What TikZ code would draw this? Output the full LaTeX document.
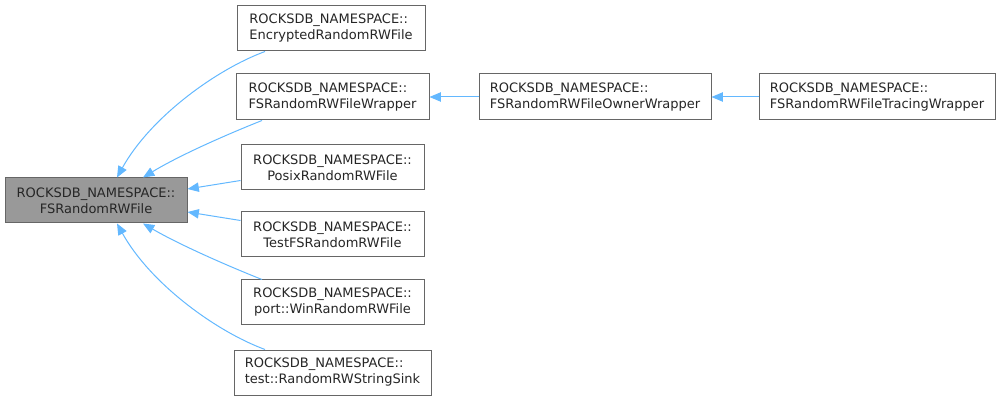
\documentclass[tikz,border=0pt]{standalone}
\usepackage{fontspec}
\setmainfont{DejaVu Sans}
\usetikzlibrary{arrows.meta,calc}
\definecolor{edgeblue}{HTML}{63B8FF}
\definecolor{boxline}{HTML}{666666}
\definecolor{rootfill}{HTML}{999999}
\begin{document}
\begin{tikzpicture}[x=0.75pt,y=-0.75pt,
  cls/.style={draw=boxline,line width=0.75pt,fill=white,inner sep=0pt,
    minimum height=33.75pt,font=\fontsize{9.75}{12}\selectfont,text=black!85},
  lft/.style={cls,align=left},
  ctr/.style={cls,align=center},
  edge/.style={draw=edgeblue,line width=0.75pt,-{Triangle[length=8.5pt,width=7pt]}}]
\useasboundingbox (0,0) rectangle (1002,402);
\node[ctr,fill=rootfill,minimum width=136.5pt] (root) at (96,200.5) {ROCKSDB\_NAMESPACE::\\FSRandomRWFile};
\node[lft,minimum width=141pt] (enc) at (331,28.5) {ROCKSDB\_NAMESPACE::\\EncryptedRandomRWFile};
\node[lft,minimum width=144.75pt,minimum height=34.5pt] (wrap) at (332.5,97) {ROCKSDB\_NAMESPACE::\\FSRandomRWFileWrapper};
\node[lft,minimum width=174pt,minimum height=34.5pt] (owner) at (595,97) {ROCKSDB\_NAMESPACE::\\FSRandomRWFileOwnerWrapper};
\node[lft,minimum width=177pt,minimum height=34.5pt] (trace) at (877,97) {ROCKSDB\_NAMESPACE::\\FSRandomRWFileTracingWrapper};
\node[ctr,minimum width=137.25pt] (posix) at (332.5,167.5) {ROCKSDB\_NAMESPACE::\\PosixRandomRWFile};
\node[ctr,minimum width=137.25pt] (testfs) at (332.5,234.5) {ROCKSDB\_NAMESPACE::\\TestFSRandomRWFile};
\node[ctr,minimum width=137.25pt] (win) at (332.5,302.5) {ROCKSDB\_NAMESPACE::\\port::WinRandomRWFile};
\node[lft,minimum width=147.75pt] (sink) at (332.5,372.5) {ROCKSDB\_NAMESPACE::\\test::RandomRWStringSink};

\draw[edge] ($(enc.south)+(-66,0)$) .. controls (215,70) and (150,118) .. ($(root.north)+(21,0)$);
\draw[edge] ($(wrap.south)+(-70.5,0)$) .. controls (228,134) and (180,155) .. ($(root.north)+(47,0)$);
\draw[edge] ($(posix.west)+(0,13)$) -- ($(root.east)+(0,-11.5)$);
\draw[edge] ($(testfs.west)+(0,-14)$) -- ($(root.east)+(0,11.5)$);
\draw[edge] ($(win.north)+(-70.5,0)$) .. controls (228,266) and (180,245) .. ($(root.south)+(47,0)$);
\draw[edge] ($(sink.north)+(-67.5,0)$) .. controls (215,331) and (150,283) .. ($(root.south)+(21,0)$);
\draw[edge] (owner.west) -- (wrap.east);
\draw[edge] (trace.west) -- (owner.east);
\end{tikzpicture}
\end{document}
